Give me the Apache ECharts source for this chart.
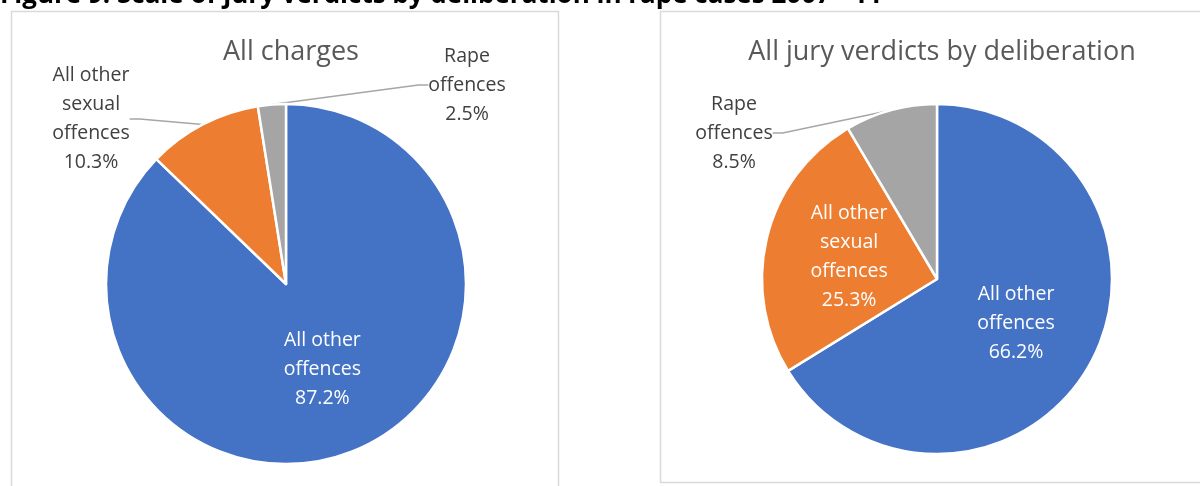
<!DOCTYPE html>
<html>
<head>
<meta charset="utf-8">
<script src="https://cdn.jsdelivr.net/npm/echarts@6/dist/echarts.min.js"></script>
<style>
  html, body { margin: 0; padding: 0; background: #fff; }
  #chart { width: 1200px; height: 486px; }
</style>
</head>
<body>
<div id="chart"></div>
<script>
"use strict";
// categories and shares (percent) for both pies
var categories = ["All other offences", "All other sexual offences", "Rape offences"];
var labelNames = ["All other\noffences", "All other\nsexual\noffences", "Rape\noffences"];
var allCharges = [87.2, 10.3, 2.5];
var juryVerdicts = [66.2, 25.3, 8.5];
var colors = ["#4472c4", "#ed7d31", "#a5a5a5"];

var FONT = "'Open Sans', 'Noto Sans', sans-serif";

// which slices carry their label inside (white) vs outside with a leader line
var insideLeft = [true, false, false];
var insideRight = [true, true, false];

// where the outside labels sit (label centre)
var outsideSpots = {
    "0-1": [91, 119],
    "0-2": [467, 85],
    "1-2": [734, 133]
};

function buildData(values, inside) {
    return values.map(function (v, i) {
        return {
            name: categories[i],
            value: v,
            itemStyle: {color: colors[i]},
            label: {
                position: inside[i] ? "inside" : "outside",
                color: inside[i] ? "#ffffff" : "#404040"
            },
            labelLine: {show: !inside[i]}
        };
    });
}

function pieSeries(values, inside, center) {
    return {
        type: "pie",
        center: center,
        radius: 180,
        startAngle: 90,
        clockwise: true,
        animation: false,
        silent: true,
        itemStyle: {borderColor: "#ffffff", borderWidth: 2.5},
        label: {
            show: true,
            fontFamily: FONT,
            fontSize: 19.5,
            lineHeight: 29,
            align: "center",
            formatter: function (p) {
                return labelNames[p.dataIndex] + "\n" + p.value.toFixed(1) + "%";
            }
        },
        labelLine: {
            length: 10,
            length2: 10,
            lineStyle: {color: "#a6a6a6", width: 1.5}
        },
        labelLayout: function (p) {
            var spot = outsideSpots[p.seriesIndex + "-" + p.dataIndex];
            if (!spot) return {};
            return {x: spot[0], y: spot[1], align: "center", verticalAlign: "middle"};
        },
        data: buildData(values, inside)
    };
}

var chart = echarts.init(document.getElementById("chart"), null, {renderer: "canvas"});
var left = pieSeries(allCharges, insideLeft, [286, 284]);
var right = pieSeries(juryVerdicts, insideRight, [937, 279]);
right.radius = 175;

chart.setOption({
    backgroundColor: "#ffffff",
    animation: false,
    title: [{
        text: "All charges",
        left: 286,
        top: 34,
        textAlign: "center",
        textStyle: {fontFamily: FONT, fontSize: 27, fontWeight: "normal", color: "#595959"}
    }, {
        text: "All jury verdicts by deliberation",
        left: 937,
        top: 34,
        textAlign: "center",
        textStyle: {fontFamily: FONT, fontSize: 27, fontWeight: "normal", color: "#595959"}
    }],
    graphic: [{
        type: "rect",
        shape: {x: 11.5, y: 11.5, width: 547, height: 500},
        style: {fill: "none", stroke: "#d9d9d9", lineWidth: 1.5},
        silent: true
    }, {
        type: "rect",
        shape: {x: 660.5, y: 11.5, width: 560, height: 471},
        style: {fill: "none", stroke: "#d9d9d9", lineWidth: 1.5},
        silent: true
    }, {
        type: "text",
        x: 0,
        y: -17,
        style: {
            text: "Figure 9: Scale of jury verdicts by deliberation in rape cases 2007 - 11",
            fontFamily: FONT,
            fontSize: 26,
            fontWeight: "bold",
            fill: "#000000",
            verticalAlign: "top"
        },
        silent: true
    }],
    series: [left, right]
});
</script>
</body>
</html>
